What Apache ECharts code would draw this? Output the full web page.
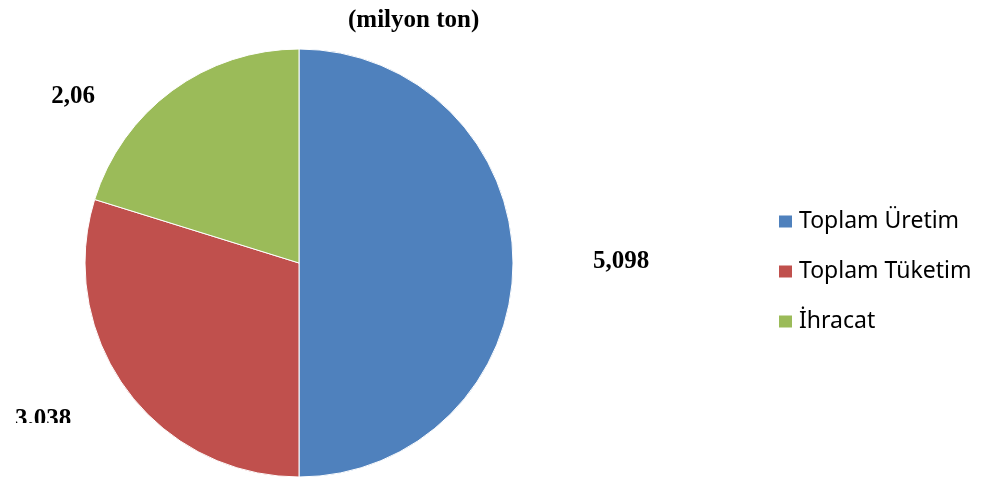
<!DOCTYPE html>
<html>
<head>
<meta charset="utf-8">
<script src="https://cdn.jsdelivr.net/npm/echarts@6/dist/echarts.min.js"></script>
<style>
html,body{margin:0;padding:0;background:#fff;}
#chart{width:985px;height:477px;}
</style>
</head>
<body>
<div id="chart"></div>
<script>
const categories = ['Toplam Üretim', 'Toplam Tüketim', 'İhracat'];
const values = [5.098, 3.038, 2.06];
const valueLabels = ['5,098', '3.038', '2,06'];
const colors = ['#4F81BD', '#C0504D', '#9BBB59'];
const titleText = '(milyon ton)';

const labelPos = [[621, 262], [43, 420], [73, 97]];

const chart = echarts.init(document.getElementById('chart'));
chart.setOption({
  animation: false,
  backgroundColor: '#ffffff',
  title: {
    text: titleText,
    left: 343,
    top: 3,
    textStyle: { fontFamily: 'Liberation Serif', fontWeight: 'bold', fontSize: 25, color: '#000' }
  },
  legend: {
    orient: 'vertical',
    left: 777,
    top: 210,
    padding: 0,
    icon: 'rect',
    itemWidth: 15,
    itemHeight: 14,
    itemGap: 27,
    data: categories,
    textStyle: { fontFamily: 'Noto Sans', fontSize: 23, color: '#000', padding: [0, 0, 0, 1] }
  },
  graphic: [{
    type: 'rect', left: 0, top: 423, z: 100,
    shape: { width: 140, height: 54 },
    style: { fill: '#ffffff' }
  }],
  series: [{
    type: 'pie',
    center: [299, 263],
    radius: 214,
    startAngle: 90,
    clockwise: true,
    itemStyle: { borderColor: '#ffffff', borderWidth: 1 },
    label: {
      show: true,
      position: 'outside',
      formatter: p => valueLabels[p.dataIndex],
      fontFamily: 'Liberation Serif',
      fontWeight: 'bold',
      fontSize: 25,
      color: '#000'
    },
    labelLine: { show: false },
    labelLayout: p => ({ x: labelPos[p.dataIndex][0], y: labelPos[p.dataIndex][1], align: 'center', verticalAlign: 'middle' }),
    emphasis: { disabled: true },
    data: categories.map((c, i) => ({ name: c, value: values[i], itemStyle: { color: colors[i] } }))
  }]
});
</script>
</body>
</html>
